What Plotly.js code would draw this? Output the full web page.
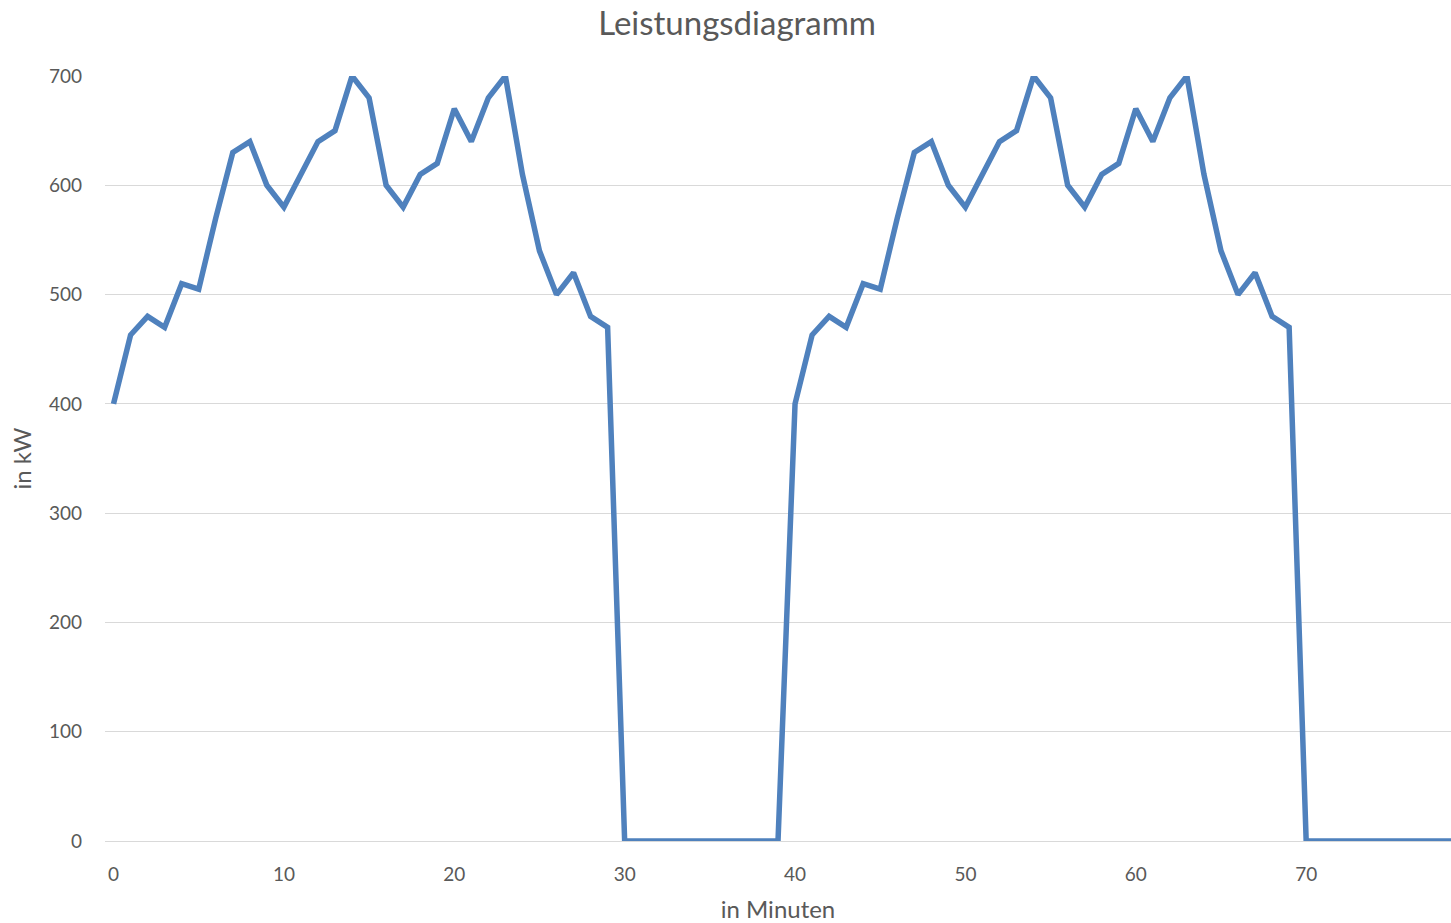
<!DOCTYPE html>
<html>
<head>
<meta charset="utf-8">
<script src="https://cdn.plot.ly/plotly-3.0.1.min.js"></script>
<style>html,body{margin:0;padding:0;background:#fff;}#chart{width:1451px;height:923px;}</style>
</head>
<body>
<div id="chart"></div>
<script>
const minutes = [];
for (let i = 0; i <= 79; i++) minutes.push(i);
const leistung = [
  400, 463, 480, 470, 510, 505, 570, 630, 640, 600,
  580, 610, 640, 650, 700, 680, 600, 580, 610, 620,
  670, 640, 680, 700, 610, 540, 500, 520, 480, 470,
  0, 0, 0, 0, 0, 0, 0, 0, 0, 0,
  400, 463, 480, 470, 510, 505, 570, 630, 640, 600,
  580, 610, 640, 650, 700, 680, 600, 580, 610, 620,
  670, 640, 680, 700, 610, 540, 500, 520, 480, 470,
  0, 0, 0, 0, 0, 0, 0, 0, 0, 0
];
const chartTitle = 'Leistungsdiagramm';
const xTitle = 'in Minuten';
const yTitle = 'in kW';

const font = 'Lato, "Open Sans", sans-serif';
Plotly.newPlot('chart', [{
  x: minutes, y: leistung, type: 'scatter', mode: 'lines',
  line: {color: '#4f81bd', width: 5.5, shape: 'linear'},
  hoverinfo: 'x+y'
}], {
  width: 1451, height: 923,
  margin: {l: 105, r: 0, t: 76, b: 82},
  paper_bgcolor: '#fff', plot_bgcolor: '#fff',
  showlegend: false,
  title: {text: chartTitle, x: 0.508, xanchor: 'center', y: 0.975, yanchor: 'middle',
          font: {family: font, size: 33, color: '#595959'}},
  xaxis: {
    range: [-0.5, 78.5], tickmode: 'linear', tick0: 0, dtick: 10,
    showgrid: false, zeroline: false, showline: false, ticks: '',
    ticklabelstandoff: 20, automargin: false,
    tickfont: {family: font, size: 19, color: '#595959'},
    title: {text: xTitle, standoff: 18, font: {family: font, size: 24, color: '#595959'}}
  },
  yaxis: {
    range: [0, 700], tickmode: 'linear', tick0: 0, dtick: 100,
    showgrid: true, gridcolor: '#d9d9d9', gridwidth: 1,
    zeroline: true, zerolinecolor: '#d9d9d9', zerolinewidth: 1,
    showline: false, ticks: '', ticklabelstandoff: 22, automargin: false,
    tickfont: {family: font, size: 19, color: '#595959'},
    title: {text: yTitle, standoff: 10, font: {family: font, size: 24, color: '#595959'}}
  }
}, {displayModeBar: false, staticPlot: true});
</script>
</body>
</html>
